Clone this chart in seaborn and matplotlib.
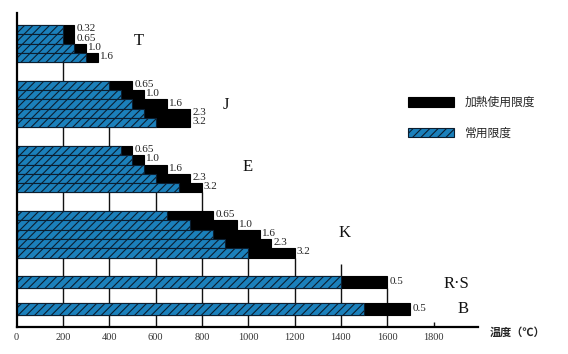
import numpy as np
import pandas as pd
import seaborn as sns
import matplotlib.pyplot as plt
from matplotlib.patches import Rectangle

# 熱電対の種類ごとの素線径(mm)、常用限度と過熱使用限度(℃)
types = ['T', 'J', 'E', 'K', 'R·S', 'B']
diameters = [
    ['0.32', '0.65', '1.0', '1.6'],
    ['0.65', '1.0', '1.6', '2.3', '3.2'],
    ['0.65', '1.0', '1.6', '2.3', '3.2'],
    ['0.65', '1.0', '1.6', '2.3', '3.2'],
    ['0.5'],
    ['0.5'],
]
normal_limit = [
    [200, 200, 250, 300],
    [400, 450, 500, 550, 600],
    [450, 500, 550, 600, 700],
    [650, 750, 850, 900, 1000],
    [1400],
    [1500],
]
heat_limit = [
    [250, 250, 300, 350],
    [500, 550, 650, 750, 750],
    [500, 550, 650, 750, 800],
    [850, 950, 1050, 1100, 1200],
    [1600],
    [1700],
]
xticks = [0, 200, 400, 600, 800, 1000, 1200, 1400, 1600, 1800]

# layout (row units): bar height per group and gap after each group
row_h = [1, 1, 1, 1, 1.3, 1.3]
gap_after = [2, 2, 2, 2, 1.6, 0]

rows = []
starts, bottoms = {}, {}
pos = 0.0
for t, dias, nl, hl, h, g in zip(types, diameters, normal_limit, heat_limit, row_h, gap_after):
    starts[t] = pos
    for i, (d, n, m) in enumerate(zip(dias, nl, hl)):
        rows.append(dict(type=t, dia=d, normal=n, heat=m, y=pos + (i + 0.5) * h, h=h))
    pos += len(dias) * h
    bottoms[t] = pos
    pos += g
df = pd.DataFrame(rows)

sns.set_theme(style='white')
plt.rcParams['font.family'] = ['Liberation Serif', 'DejaVu Serif']
plt.rcParams['hatch.linewidth'] = 0.8

BLUE = '#1b80bb'
fig = plt.figure(figsize=(5.68, 3.54), dpi=100)
ax = fig.add_axes([16.5 / 568, 1 - 327 / 354, 461.5 / 568, 314 / 354])

# vertical guide lines (only drawn up to the group where they start)
grid_top = {200: bottoms['T'], 400: bottoms['J'], 600: bottoms['E'], 800: bottoms['E'],
            1000: bottoms['K'], 1200: bottoms['K'], 1400: bottoms['K'] + 0.7,
            1600: bottoms['R·S'], 1800: 31.9}
y_bottom = 32.47
for xv, top in grid_top.items():
    ax.vlines(xv, top, y_bottom, color='#111111', lw=1.0, zorder=0)

multi = df[df['h'] == 1]
single = df[df['h'] != 1]
for part in [multi, single]:
    ys = np.unique(part['y'])
    spacing = np.min(np.diff(ys)) if len(ys) > 1 else 1
    w = part['h'].iloc[0] / spacing
    sns.barplot(data=part, x='heat', y='y', orient='y', native_scale=True,
                color='black', saturation=1, width=w, errorbar=None,
                edgecolor='black', linewidth=0.8, ax=ax)
    sns.barplot(data=part, x='normal', y='y', orient='y', native_scale=True,
                color=BLUE, saturation=1, width=w, errorbar=None,
                edgecolor='#0b1e30', linewidth=0.8, hatch='////', ax=ax)

# wire diameter labels
for _, r in df.iterrows():
    ax.text(r['heat'] + 9, r['y'] - 0.1, r['dia'], fontsize=8, va='center',
            ha='left', color='#222222')

# thermocouple type labels
label_pos = {'T': (529, 1.77), 'J': (904, 8.6), 'E': (999, 15.3),
             'K': (1418, 22.4), 'R·S': (1897, 27.85), 'B': (1927, 30.5)}
for t, (lx, ly) in label_pos.items():
    ax.text(lx, ly, t, fontsize=12, ha='center', va='center', color='#111111')

ax.set_xlim(0, 1992)
ax.set_ylim(y_bottom, -1.29)
ax.set_xticks(xticks)
ax.set_xticklabels([str(v) for v in xticks], fontsize=7.5, color='#333333')
ax.set_yticks([])
ax.tick_params(axis='x', length=0, pad=4)
ax.set_xlabel('')
ax.set_ylabel('')
for s in ['top', 'right']:
    ax.spines[s].set_visible(False)
for s in ['left', 'bottom']:
    ax.spines[s].set_color('black')
    ax.spines[s].set_linewidth(1.6)

fig.text(490 / 568, 1 - 332 / 354, '温度（℃）', fontsize=8, fontweight='bold',
         family=['Noto Sans CJK JP', 'DejaVu Sans'], va='center', ha='left')

# legend
fig.add_artist(Rectangle((408 / 568, 1 - 107 / 354), 46 / 568, 10 / 354,
                         transform=fig.transFigure, facecolor='black', edgecolor='black', lw=0.8))
fig.add_artist(Rectangle((408 / 568, 1 - 137 / 354), 46 / 568, 9 / 354,
                         transform=fig.transFigure, facecolor=BLUE, edgecolor='#0b1e30',
                         lw=0.8, hatch='////'))
fig.text(465 / 568, 1 - 102 / 354, '加熱使用限度', fontsize=8.5,
         family=['Noto Sans CJK JP', 'DejaVu Sans'], va='center', ha='left')
fig.text(465 / 568, 1 - 133 / 354, '常用限度', fontsize=8.5,
         family=['Noto Sans CJK JP', 'DejaVu Sans'], va='center', ha='left')

fig.savefig('out.png', dpi=100)
